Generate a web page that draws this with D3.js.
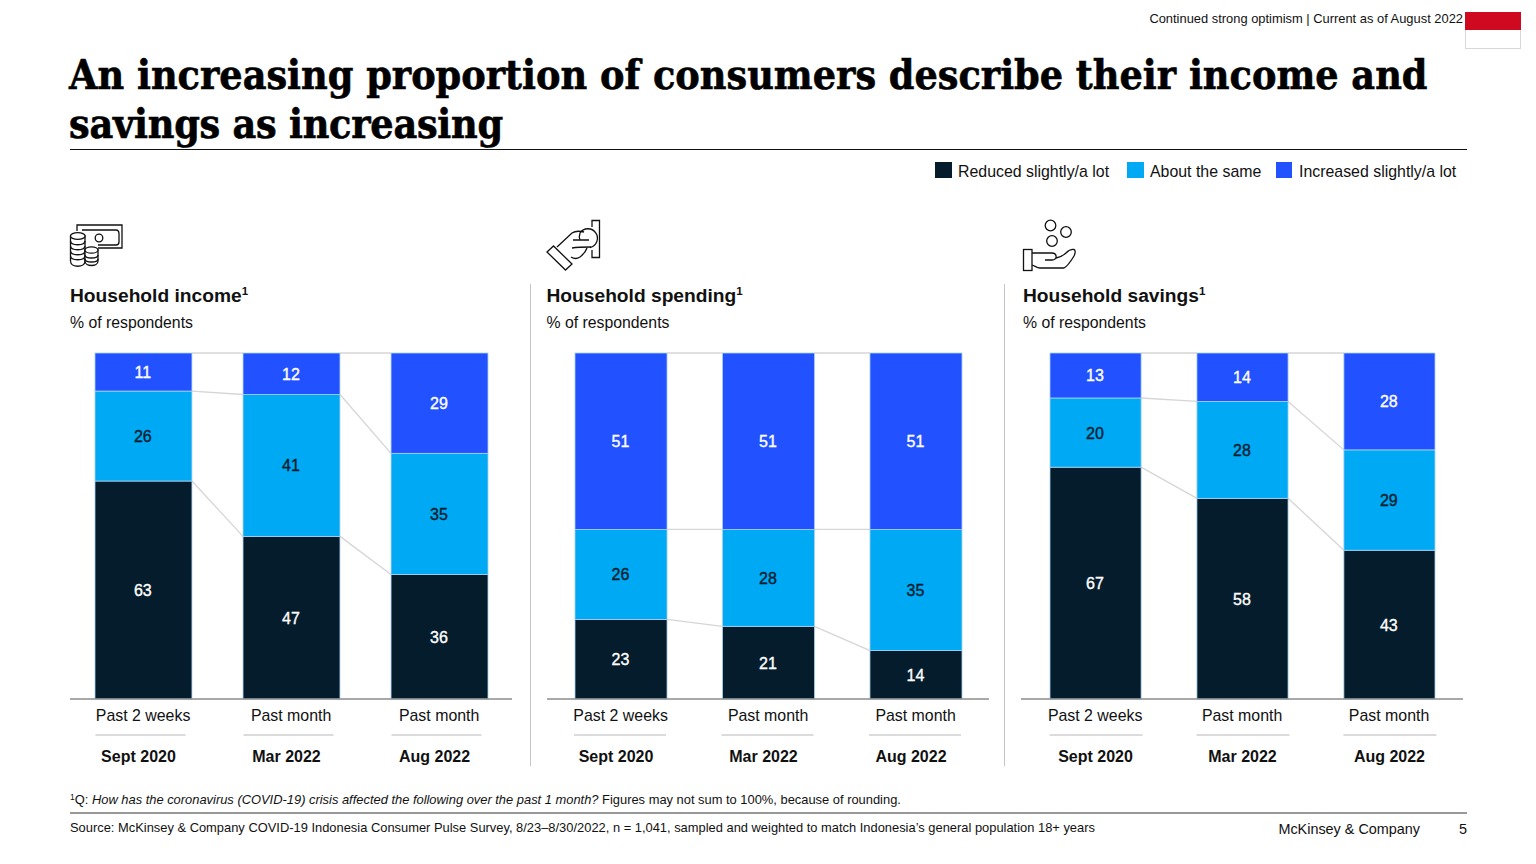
<!DOCTYPE html>
<html>
<head>
<meta charset="utf-8">
<script src="https://cdn.jsdelivr.net/npm/d3@7"></script>
<style>
  html, body { margin: 0; padding: 0; background: #fff; }
  text { font-family: "Liberation Sans", Arial, sans-serif; fill: #111; }
</style>
</head>
<body>
<svg id="chart" width="1536" height="864"></svg>
<script>
const seriesNames = ['Reduced slightly/a lot', 'About the same', 'Increased slightly/a lot'];
const seriesColors = ['#051c2c', '#00a9f4', '#2251ff'];
const periods = ['Sept 2020', 'Mar 2022', 'Aug 2022'];
const recall = ['Past 2 weeks', 'Past month', 'Past month'];

const incomeReduced = [63, 47, 36];
const incomeSame = [26, 41, 35];
const incomeIncreased = [11, 12, 29];

const spendingReduced = [23, 21, 14];
const spendingSame = [26, 28, 35];
const spendingIncreased = [51, 51, 51];

const savingsReduced = [67, 58, 43];
const savingsSame = [20, 28, 29];
const savingsIncreased = [13, 14, 28];

const panels = [
  { title: 'Household income', icon: 'income', x: 70, axis: [70, 512], bars: [95, 488], pad: 0.345, periodShift: -5, span: [-48, 42],
    rows: [incomeReduced, incomeSame, incomeIncreased] },
  { title: 'Household spending', icon: 'spending', x: 546.5, axis: [547, 989], bars: [575, 962], pad: 0.376, periodShift: -5, span: [-47, 45],
    rows: [spendingReduced, spendingSame, spendingIncreased] },
  { title: 'Household savings', icon: 'savings', x: 1023, axis: [1021, 1463], bars: [1050, 1435], pad: 0.38, periodShift: 0, span: [-46, 47],
    rows: [savingsReduced, savingsSame, savingsIncreased] },
];

const svg = d3.select('#chart');
const y = d3.scaleLinear().domain([0, 100]).range([699, 353]);

function label(g, x, yPos, str, size, opts = {}) {
  return g.append('text')
    .attr('x', x).attr('y', yPos)
    .attr('font-size', size)
    .attr('font-weight', opts.weight || 400)
    .attr('font-style', opts.style || 'normal')
    .attr('text-anchor', opts.anchor || 'start')
    .style('fill', opts.fill || '#111')
    .text(str);
}

function rule(g, x1, x2, y1, y2, color, width) {
  g.append('line')
    .attr('x1', x1).attr('x2', x2).attr('y1', y1).attr('y2', y2)
    .attr('stroke', color).attr('stroke-width', width);
}

// header
label(svg, 1463, 23, 'Continued strong optimism | Current as of August 2022', 12.9, { anchor: 'end' });
svg.append('rect').attr('x', 1465.5).attr('y', 12.5).attr('width', 55).attr('height', 36)
  .attr('fill', '#fff').attr('stroke', '#d8d8d8');
svg.append('rect').attr('x', 1465).attr('y', 12).attr('width', 56).attr('height', 18).attr('fill', '#cf0a20');

const titleLines = ['An increasing proportion of consumers describe their income and', 'savings as increasing'];
titleLines.forEach((t, i) => {
  label(svg, 69, 89 + i * 48.5, t, 40.8, { weight: 700 })
    .style('font-family', '"DejaVu Serif Condensed", "DejaVu Serif", serif')
    .style('fill', '#000').style('stroke', '#000').style('stroke-width', 0.6)
    .style('letter-spacing', i ? '-0.25px' : '0');
});
rule(svg, 70, 1467, 149.5, 149.5, '#111', 1);

// legend
const legendX = [935, 1127, 1276];
const legendW = [17, 17, 16];
seriesNames.forEach((s, i) => {
  svg.append('rect').attr('x', legendX[i]).attr('y', 162).attr('width', legendW[i]).attr('height', 16).attr('fill', seriesColors[i]);
  label(svg, legendX[i] + 23, 177, s, 15.9);
});

// icons
const icons = {
  income: g => {
    const p = g.append('g').attr('fill', '#fff').attr('stroke', '#111').attr('stroke-width', 1.3);
    p.append('path').attr('fill', 'none').attr('d', 'M77 231V225H122V248H98');
    p.append('path').attr('fill', 'none').attr('d', 'M82 230H116C118 230 119 232 119 234V242C119 244 118 245 116 245H98');
    p.append('circle').attr('cx', 99).attr('cy', 238).attr('r', 3.8);
    p.append('path').attr('d', 'M70.500 236V261C70.500 268 85 268 85 261V236Z');
    p.append('ellipse').attr('cx', 77.800).attr('cy', 236).attr('rx', 7.300).attr('ry', 3.400);
    [241, 246, 251, 256].forEach(c => p.append('path').attr('fill', 'none').attr('d', `M70.500 ${c}C70.500 ${c + 5} 85 ${c + 5} 85 ${c}`));
    p.append('path').attr('d', 'M85 250V261C85 267 98 267 98 261V250Z');
    p.append('ellipse').attr('cx', 91.500).attr('cy', 250).attr('rx', 6.500).attr('ry', 3.200);
    [255, 259].forEach(c => p.append('path').attr('fill', 'none').attr('d', `M85 ${c}C85 ${c + 4} 98 ${c + 4} 98 ${c}`));
  },
  spending: g => {
    const p = g.append('g').attr('fill', 'none').attr('stroke', '#111').attr('stroke-width', 1.3);
    p.append('path').attr('d', 'M592 227V220.500H599.500V257.500H592V250');
    p.append('path').attr('d', 'M580 233A9.500 9.500 0 1 1 590 247.500');
    p.append('path').attr('d', 'M557 247L572 233C575 231 580 231 584 232');
    p.append('path').attr('d', 'M573 240H589M572 248C578 247 584 247 591 247M571 257C574 259 577 259 580 257C584 254 586 251 587 248');
    p.append('path').attr('d', 'M580 233C579 236 579 238 580 240');
    p.append('path').attr('d', 'M547 252L553.500 246L572 264L565.500 270Z');
  },
  savings: g => {
    const p = g.append('g').attr('fill', 'none').attr('stroke', '#111').attr('stroke-width', 1.3);
    p.append('circle').attr('cx', 1050.500).attr('cy', 225.500).attr('r', 5.300);
    p.append('circle').attr('cx', 1066).attr('cy', 232).attr('r', 5.300);
    p.append('circle').attr('cx', 1052).attr('cy', 241).attr('r', 5.300);
    p.append('rect').attr('x', 1023.500).attr('y', 249.500).attr('width', 8.500).attr('height', 21);
    p.append('path').attr('d', 'M1032 253H1052C1057 253 1058 260 1052 260H1045');
    p.append('path').attr('d', 'M1056 258C1060 257 1063 256 1066 253C1068 251 1071 249 1074 249.500C1076 250 1075 254 1074 256C1071 261 1068 266 1064 268H1040C1037 268 1035 266 1032 265');
  },
};

panels.forEach(panel => {
  const g = svg.append('g');
  icons[panel.icon](g);

  const head = label(g, panel.x, 302, panel.title, 19.2, { weight: 700 });
  head.append('tspan').attr('font-size', 11.5).attr('dy', -7).text('1');
  label(g, panel.x, 328, '% of respondents', 15.8);

  const x = d3.scaleBand().domain(periods).range(panel.bars).paddingInner(panel.pad).paddingOuter(0);
  const table = periods.map((p, i) => ({
    period: p,
    reduced: panel.rows[0][i],
    same: panel.rows[1][i],
    increased: panel.rows[2][i],
  }));
  const stacked = d3.stack().keys(['reduced', 'same', 'increased'])(table);

  // connector lines between neighbouring bars
  stacked.forEach(layer => {
    d3.pairs(layer).forEach(([a, b]) => {
      rule(g, x(a.data.period) + x.bandwidth(), x(b.data.period), y(a[1]), y(b[1]), '#d6d6d6', 1.3);
    });
  });

  stacked.forEach((layer, s) => {
    g.selectAll(null).data(layer).join('rect')
      .attr('x', d => x(d.data.period))
      .attr('width', x.bandwidth())
      .attr('y', d => y(d[1]))
      .attr('height', d => y(d[0]) - y(d[1]))
      .attr('fill', seriesColors[s])
      .attr('stroke', '#a9d3f2')
      .attr('stroke-width', 0.8);
    g.selectAll(null).data(layer).join('text')
      .attr('x', d => x(d.data.period) + x.bandwidth() / 2 - 0.6)
      .attr('y', d => (y(d[0]) + y(d[1])) / 2 + 6)
      .attr('text-anchor', 'middle')
      .attr('font-size', 16)
      .style('fill', s === 1 ? '#051c2c' : '#fff')
      .style('stroke', s === 1 ? '#051c2c' : '#fff')
      .style('stroke-width', 0.35)
      .text(d => d[1] - d[0]);
  });

  // baseline and category labels
  const axis = g.append('g').attr('transform', 'translate(0,699)')
    .call(d3.axisBottom(x).tickSize(0).tickFormat((d, i) => recall[i]));
  axis.select('.domain').remove();
  axis.selectAll('text').attr('y', 0).attr('dy', 0).attr('transform', 'translate(-0.4,22)')
    .attr('font-size', 15.9).style('font-family', '"Liberation Sans", Arial, sans-serif').style('fill', '#111');
  rule(g, panel.axis[0], panel.axis[1], 699, 699, '#8c8c8c', 1.6);

  periods.forEach(p => {
    const cx = x(p) + x.bandwidth() / 2;
    rule(g, cx + panel.span[0], cx + panel.span[1], 735, 735, '#b8b8b8', 1.2);
    label(g, cx + panel.periodShift, 762, p, 16, { weight: 700, anchor: 'middle' });
  });
});

// panel dividers
rule(svg, 530.5, 530.5, 284, 766, '#c4c4c4', 1);
rule(svg, 1004.5, 1004.5, 284, 766, '#c4c4c4', 1);

// footnotes
const note = label(svg, 70, 804, '', 12.9);
note.append('tspan').attr('font-size', 8.5).attr('dy', -4).text('1');
note.append('tspan').attr('dy', 4).text('Q: ');
note.append('tspan').attr('font-style', 'italic').text('How has the coronavirus (COVID-19) crisis affected the following over the past 1 month?');
note.append('tspan').text(' Figures may not sum to 100%, because of rounding.');
rule(svg, 70, 1467, 813, 813, '#333', 1);
label(svg, 70, 832, 'Source: McKinsey & Company COVID-19 Indonesia Consumer Pulse Survey, 8/23–8/30/2022, n = 1,041, sampled and weighted to match Indonesia’s general population 18+ years', 12.9);
label(svg, 1420, 834, 'McKinsey & Company', 14.4, { anchor: 'end' });
label(svg, 1467, 834, '5', 14.4, { anchor: 'end' });
</script>
</body>
</html>
